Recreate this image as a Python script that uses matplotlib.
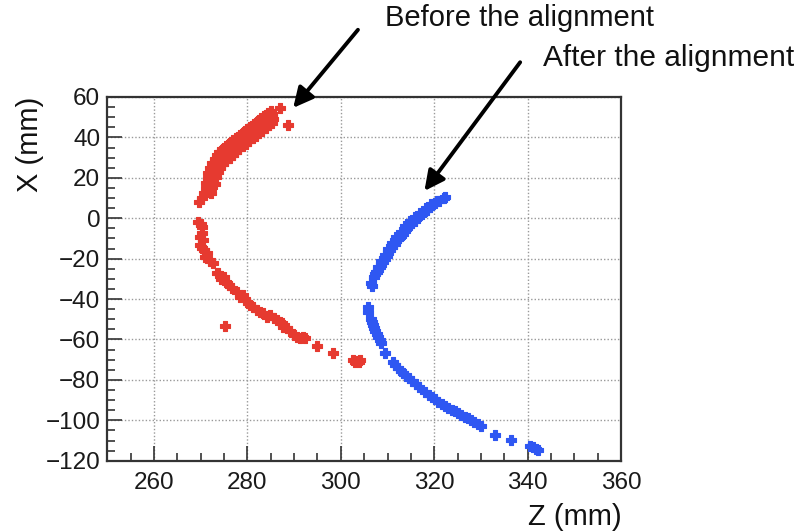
import matplotlib
matplotlib.use("Agg")
import matplotlib.pyplot as plt
from matplotlib.ticker import MultipleLocator

plt.rcParams['font.family'] = ['Liberation Sans', 'DejaVu Sans']

# Track hits before alignment: (Z, X) pairs in mm
before_pts = [
    # upper arc, dense band
    (271.5, 22.5), (272.0, 25.0), (272.5, 27.5), (273.0, 29.5), (273.5, 31.2),
    (274.0, 32.6), (274.5, 33.8), (275.0, 34.6), (275.5, 35.6), (276.0, 36.6),
    (276.5, 37.6), (277.0, 38.6), (277.5, 39.5), (278.0, 40.4), (278.5, 41.3),
    (279.0, 42.2), (279.5, 43.0), (280.0, 44.0), (280.5, 44.9), (281.0, 45.8),
    (281.5, 46.8), (282.0, 47.7), (282.5, 48.6), (283.0, 49.5), (283.5, 50.4),
    (284.0, 51.3), (284.5, 52.2), (285.0, 53.0),
    (271.2, 17.5), (271.6, 20.0), (272.1, 23.0), (272.6, 25.8), (273.1, 27.8),
    (273.6, 29.5), (274.1, 30.9), (274.6, 32.0), (275.1, 33.1), (275.6, 34.1),
    (276.1, 35.1), (276.6, 36.1), (277.1, 37.1), (277.6, 38.0), (278.1, 38.9),
    (278.6, 39.8), (279.1, 40.7), (279.6, 41.6), (280.1, 42.5), (280.6, 43.4),
    (281.1, 44.3), (281.6, 45.3), (282.1, 46.2), (282.6, 47.1), (283.1, 48.0),
    (283.6, 48.9), (284.1, 49.8), (284.6, 50.7), (285.2, 51.5),
    (270.2, 9.9), (270.7, 12.5), (271.1, 15.0), (271.6, 17.3), (272.0, 20.0),
    (272.4, 23.0), (272.8, 25.0), (273.3, 26.6), (273.8, 28.2), (274.3, 29.6),
    (274.8, 30.9), (275.3, 32.0), (275.8, 33.1), (276.3, 34.2), (276.8, 35.3),
    (277.3, 36.3), (277.8, 37.2), (278.3, 38.1), (278.8, 39.0), (279.3, 40.0),
    (279.8, 40.9), (280.3, 41.8), (280.8, 42.7), (281.3, 43.6), (281.8, 44.6),
    (282.3, 45.5), (282.8, 46.4), (283.3, 47.3), (283.8, 48.2), (284.3, 49.1),
    (284.8, 50.0), (285.3, 50.5),
    (272.2, 15.0), (272.6, 18.0), (272.9, 21.0), (273.4, 24.5), (273.9, 26.5),
    (274.4, 27.9), (274.9, 29.2), (275.4, 30.4), (275.9, 31.5), (276.4, 32.6),
    (276.9, 33.7), (277.4, 34.7), (277.9, 35.6), (278.4, 36.6), (278.9, 37.5),
    (279.4, 38.4), (279.9, 39.3), (280.4, 40.3), (280.9, 41.2), (281.4, 42.1),
    (281.9, 43.0), (282.4, 43.9), (282.9, 44.8), (283.4, 45.7), (283.9, 46.6),
    (284.4, 47.5), (284.9, 48.4), (285.4, 49.0),
    (273.0, 17.0), (273.2, 20.5), (273.6, 23.0), (274.1, 25.0), (274.8, 26.8),
    (275.5, 28.4), (276.2, 30.0), (276.9, 31.5), (277.6, 32.9), (278.3, 34.3),
    (279.0, 35.6), (279.7, 36.9), (280.4, 38.2), (281.1, 39.5), (281.8, 40.8),
    (282.5, 42.1), (283.2, 43.4), (283.9, 44.7), (284.6, 46.0), (285.2, 47.0),
    (271.5, 13.0), (272.3, 12.5), (269.7, 8.0), (287.0, 54.4), (288.6, 46.1),
    # lower arc
    (269.5, -1.7), (270.0, -3.0), (270.2, -4.5), (270.2, -7.5), (269.9, -9.5),
    (270.5, -11.0), (269.9, -13.3), (270.3, -14.5), (270.6, -15.5), (271.3, -17.4),
    (271.0, -19.0), (272.0, -21.0), (272.7, -22.3), (273.4, -27.0), (273.8, -27.3),
    (274.9, -29.0), (274.4, -30.0), (275.6, -32.2), (276.0, -33.0), (276.7, -34.7),
    (277.7, -36.4), (278.4, -38.9), (279.1, -38.0), (279.5, -40.0), (280.2, -42.1),
    (280.6, -43.0), (281.3, -43.8), (282.0, -45.4), (282.7, -46.3), (283.4, -47.1),
    (284.2, -48.8), (284.8, -48.0), (285.6, -49.6), (286.3, -50.4), (286.9, -51.3),
    (287.4, -52.0), (287.7, -53.7), (288.4, -54.5), (289.2, -56.0), (289.9, -57.8),
    (290.6, -58.7), (291.3, -59.5), (292.0, -59.0), (292.4, -59.5), (294.9, -63.3),
    (298.4, -66.9), (302.6, -70.0), (303.4, -70.6), (304.1, -70.0), (303.0, -71.0),
    (303.8, -71.2), (275.2, -53.4),
]

# Track hits after alignment: (Z, X) pairs in mm
after_pts = [
    # upper arc
    (322.4, 10.6), (322.0, 10.0), (321.0, 8.6), (320.2, 7.4), (319.6, 6.4),
    (319.0, 5.4), (318.4, 4.1), (317.8, 3.0), (317.3, 1.9), (316.8, 0.9),
    (316.3, -0.1), (315.8, -1.3), (315.3, -2.4), (314.7, -3.7), (314.2, -5.0),
    (313.7, -6.4), (313.3, -7.6), (312.8, -8.8), (312.4, -10.0), (311.9, -11.4),
    (311.5, -12.8), (311.0, -14.2), (310.6, -15.7), (310.2, -17.2), (309.8, -18.6),
    (309.4, -20.1), (309.1, -21.5), (308.7, -23.0), (308.3, -24.3), (308.0, -25.5),
    (307.7, -26.5), (307.4, -27.8), (307.0, -29.0),
    (320.5, 8.4), (319.4, 6.8), (318.2, 4.9), (317.0, 2.8), (315.9, 0.7),
    (314.8, -1.6), (313.8, -4.0), (312.8, -6.6), (311.9, -9.2), (311.0, -12.1),
    (310.2, -15.0), (309.4, -18.0), (308.7, -21.0), (308.0, -24.0), (307.5, -26.4),
    (306.5, -32.0), (306.7, -33.6),
    # lower arc
    (305.9, -43.8), (305.9, -46.3), (306.5, -50.0), (306.7, -51.5), (306.9, -53.0),
    (307.1, -54.5), (307.4, -56.0), (307.7, -57.5), (308.0, -59.0), (308.4, -60.5),
    (308.7, -61.9), (309.5, -66.9), (311.1, -71.0), (311.6, -72.4), (312.2, -74.0),
    (312.8, -75.5), (313.4, -76.8), (314.0, -78.2), (314.6, -79.3), (315.3, -80.6),
    (316.0, -82.0), (316.7, -83.3), (318.1, -86.0), (318.8, -87.3), (319.5, -88.5),
    (320.2, -89.7), (320.9, -90.8), (321.6, -91.8), (322.3, -92.8), (323.0, -93.8),
    (323.7, -94.7), (324.4, -95.6), (325.1, -96.5), (325.8, -97.3), (326.5, -98.2),
    (327.2, -99.1), (327.9, -100.0), (328.6, -100.9), (329.3, -101.8), (330.0, -102.8),
    (333.1, -107.3), (336.4, -109.8), (340.6, -112.8), (341.2, -113.4), (341.8, -114.0),
    (342.2, -114.6),
]

before_z = [p[0] for p in before_pts]
before_x = [p[1] for p in before_pts]
after_z = [p[0] for p in after_pts]
after_x = [p[1] for p in after_pts]

fig = plt.figure(figsize=(7.99, 5.32), dpi=100)
ax = fig.add_axes([0.1343, 0.134, 0.643, 0.6837])

red = '#e63a30'
blue = '#2f57f2'
ax.scatter(before_z, before_x, marker='P', s=46, color=red,
           edgecolors=red, linewidths=0.8, zorder=3)
ax.scatter(after_z, after_x, marker='P', s=46, color=blue,
           edgecolors=blue, linewidths=0.8, zorder=3)

ax.set_xlim(250, 360)
ax.set_ylim(-120, 60)
ax.xaxis.set_major_locator(MultipleLocator(20))
ax.xaxis.set_minor_locator(MultipleLocator(5))
ax.yaxis.set_major_locator(MultipleLocator(20))
ax.yaxis.set_minor_locator(MultipleLocator(5))
ax.tick_params(which='both', direction='in', top=False, right=False,
               color='#333333', width=1.2, labelsize=17.5, labelcolor='#1a1a1a')
ax.tick_params(axis='x', which='major', length=11, pad=8)
ax.tick_params(axis='y', which='major', length=11, pad=5)
ax.tick_params(which='minor', length=5.5)
ax.grid(True, which='major', color='#999999', linestyle=(0, (1, 1.5)),
        linewidth=1.0)
for sp in ax.spines.values():
    sp.set_color('#333333')
    sp.set_linewidth(1.6)

ax.text(1.001, -0.155, 'Z (mm)', transform=ax.transAxes, fontsize=21,
        ha='right', va='center', color='#111111')
ax.text(-0.150, 1.0, 'X (mm)', transform=ax.transAxes, fontsize=21,
        rotation=90, ha='center', va='top', color='#111111')

ax.annotate('', xy=(289.8, 54.6), xycoords='data',
            xytext=(0.448, 0.944), textcoords='figure fraction',
            arrowprops=dict(arrowstyle='-|>', mutation_scale=30, lw=2.8,
                            color='black', shrinkA=0, shrinkB=0))
ax.annotate('', xy=(317.9, 13.5), xycoords='data',
            xytext=(0.651, 0.883), textcoords='figure fraction',
            arrowprops=dict(arrowstyle='-|>', mutation_scale=30, lw=2.8,
                            color='black', shrinkA=0, shrinkB=0))
fig.text(0.482, 0.966, 'Before the alignment', fontsize=21, va='center',
         ha='left', color='#111111')
fig.text(0.680, 0.891, 'After the alignment', fontsize=21.5, va='center',
         ha='left', color='#111111')

fig.savefig('out.png', dpi=100)
